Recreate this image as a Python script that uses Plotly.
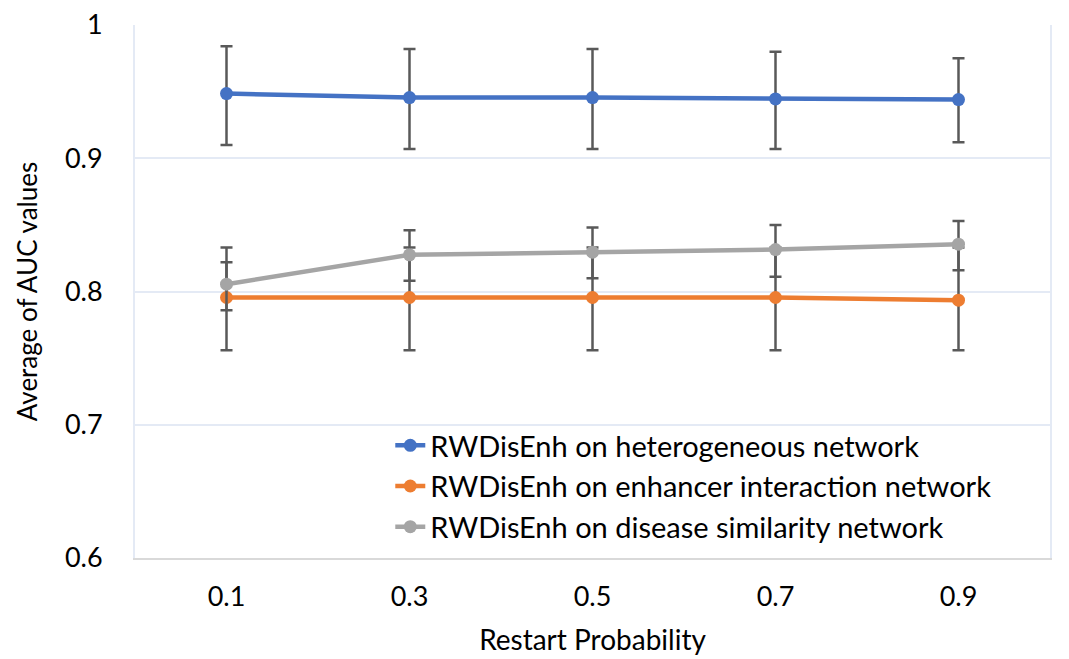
import plotly.graph_objects as go
import numpy as np

categories = ["0.1", "0.3", "0.5", "0.7", "0.9"]

hetero_mean = [0.9485, 0.9455, 0.9455, 0.9445, 0.9440]
hetero_upper = [0.984, 0.982, 0.982, 0.980, 0.975]
hetero_lower = [0.910, 0.907, 0.907, 0.907, 0.912]

enh_mean = [0.7955, 0.7955, 0.7955, 0.7955, 0.7935]
enh_upper = [0.833, 0.833, 0.833, 0.833, 0.833]
enh_lower = [0.756, 0.756, 0.756, 0.756, 0.756]

dis_mean = [0.8055, 0.8275, 0.8295, 0.8315, 0.8355]
dis_upper = [0.822, 0.846, 0.848, 0.850, 0.853]
dis_lower = [0.786, 0.808, 0.810, 0.811, 0.816]

y_ticks = [0.6, 0.7, 0.8, 0.9, 1.0]
y_tick_labels = ["0.6", "0.7", "0.8", "0.9", "1"]

series = [
    ("RWDisEnh on heterogeneous network", hetero_mean, hetero_upper, hetero_lower, "#4472C4"),
    ("RWDisEnh on enhancer interaction network", enh_mean, enh_upper, enh_lower, "#ED7D31"),
    ("RWDisEnh on disease similarity network", dis_mean, dis_upper, dis_lower, "#A5A5A5"),
]

FONT = "Lato"
fig = go.Figure()
for i, (name, mean, up, lo, color) in enumerate(series):
    m = np.array(mean)
    fig.add_trace(go.Scatter(
        x=categories, y=mean, name=name, mode="lines+markers",
        line=dict(color=color, width=4.5),
        marker=dict(color=color, size=13),
        error_y=dict(type="data", symmetric=False,
                     array=list(np.array(up) - m),
                     arrayminus=list(m - np.array(lo)),
                     color="#595959", thickness=2.5, width=6),
    ))

fig.update_layout(
    width=1061, height=651,
    margin=dict(l=127, r=19, t=17, b=101),
    paper_bgcolor="white", plot_bgcolor="white",
    font=dict(family=FONT, color="#000000", size=27),
    showlegend=True,
    legend=dict(x=0.279, y=0.259, xanchor="left", yanchor="top",
                bgcolor="rgba(255,255,255,0)", font=dict(size=29, family=FONT),
                traceorder="normal", itemwidth=30),
    xaxis=dict(type="category", range=[-0.5, 4.5], showgrid=False, automargin=False,
               showline=True, linecolor="#d9d9d9", linewidth=2, mirror=False,
               ticks="", tickfont=dict(size=27, family=FONT),
               ticklabelstandoff=14,
               title=dict(text="Restart Probability", font=dict(size=28, family=FONT), standoff=19)),
    yaxis=dict(range=[0.6, 1.0], tickvals=y_ticks, ticktext=y_tick_labels, automargin=False,
               showgrid=True, gridcolor="#e4eaf5", gridwidth=2,
               showline=True, linecolor="#e4eaf5", linewidth=2, mirror=True,
               zeroline=False, ticks="", tickfont=dict(size=27, family=FONT),
               ticklabelstandoff=25, ticklabeloverflow="allow",
               title=dict(text="Average of AUC values", font=dict(size=26, family=FONT), standoff=20)),
)

fig.write_html("out.html")
